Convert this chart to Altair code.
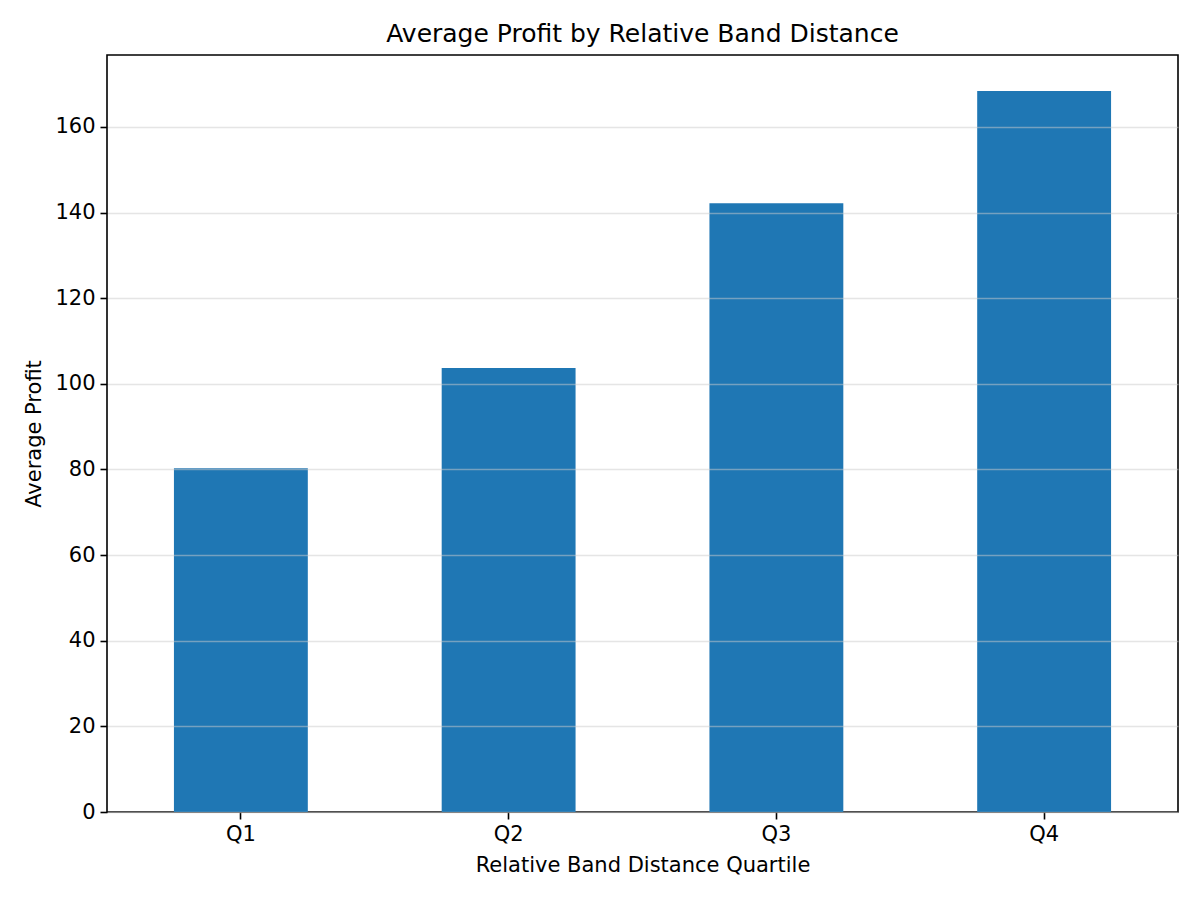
import altair as alt
import pandas as pd

quartiles = ["Q1", "Q2", "Q3", "Q4"]
avg_profit = [80.3, 103.7, 142.2, 168.4]
y_ticks = [0, 20, 40, 60, 80, 100, 120, 140, 160]

df = pd.DataFrame({"quartile": quartiles, "profit": avg_profit})

FONT = "DejaVu Sans"

chart = alt.Chart(df).mark_bar(color="#1f77b4").encode(
    x=alt.X("quartile:N", sort=quartiles,
            scale=alt.Scale(paddingInner=0.5, paddingOuter=0.25),
            axis=alt.Axis(title="Relative Band Distance Quartile", labelAngle=0,
                          labelPadding=4, titlePadding=10, grid=False)),
    y=alt.Y("profit:Q", scale=alt.Scale(domain=[0, 176.8], nice=False),
            axis=alt.Axis(title="Average Profit", values=y_ticks,
                          labelPadding=5, titlePadding=10, grid=True,
                          gridColor="#cccccc", gridOpacity=0.5, gridWidth=1.5,
                          zindex=1)),
).properties(
    width=1071, height=757,
    title=alt.TitleParams("Average Profit by Relative Band Distance", fontSize=25,
                          font=FONT, fontWeight="normal", color="black", offset=8),
    autosize=alt.AutoSizeParams(type="none"),
    padding={"left": 99, "top": 47, "right": 14, "bottom": 80},
).configure_view(stroke="black", strokeWidth=1.6).configure_axis(
    labelFontSize=21, titleFontSize=21, labelFont=FONT, titleFont=FONT,
    labelColor="black", titleColor="black", titleFontWeight="normal",
    domain=False, tickColor="black", tickSize=7, tickWidth=1.6,
)

chart.save("out.html", embed_options={"renderer": "svg", "actions": False})
